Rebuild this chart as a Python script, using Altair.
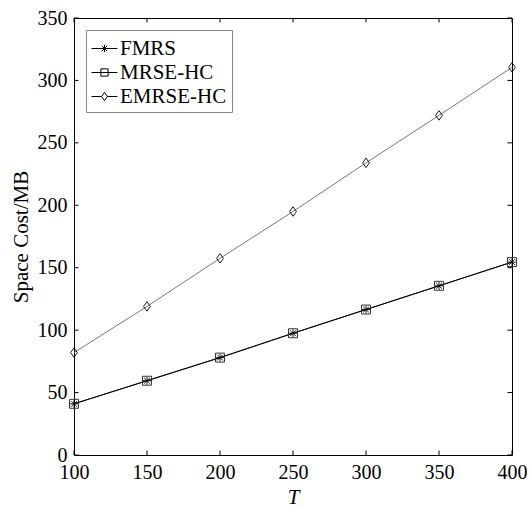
import altair as alt
import pandas as pd

T = [100, 150, 200, 250, 300, 350, 400]
fmrs = [41, 59.5, 78, 97.5, 116.5, 135.5, 154.5]
mrse_hc = [41, 59.5, 78, 97.5, 116.5, 135.5, 154.5]
emrse_hc = [82, 119, 157.5, 195, 234, 272, 310.5]
series_names = ["FMRS", "MRSE-HC", "EMRSE-HC"]
x_ticks = [100, 150, 200, 250, 300, 350, 400]
y_ticks = [0, 50, 100, 150, 200, 250, 300, 350]

rows = []
for name, vals in zip(series_names, [fmrs, mrse_hc, emrse_hc]):
    for t, v in zip(T, vals):
        rows.append({"T": t, "cost": v, "series": name})
df = pd.DataFrame(rows)

FONT = "Liberation Serif"
xs = alt.Scale(domain=[100, 400], nice=False, zero=False)
ys = alt.Scale(domain=[0, 350], nice=False)

X = alt.X("T:Q", scale=xs, axis=alt.Axis(values=x_ticks, title="T", titleFontStyle="italic",
                                         labelFlush=False, labelPadding=7, titlePadding=4))
Y = alt.Y("cost:Q", scale=ys, axis=alt.Axis(values=y_ticks, title="Space Cost/MB",
                                            labelPadding=7, titlePadding=6))

base = alt.Chart(df)

lines = base.mark_line(strokeWidth=0.9).encode(
    x=X, y=Y,
    detail="series:N",
    color=alt.condition(alt.datum.series == "EMRSE-HC", alt.value("#6a6a6a"), alt.value("#000000")),
)

ast_path = "M-1,0L1,0M0,-1L0,1M-0.72,-0.72L0.72,0.72M-0.72,0.72L0.72,-0.72"
dia_path = "M0,-1L0.72,0L0,1L-0.72,0Z"

m_fmrs = base.transform_filter(alt.datum.series == "FMRS").mark_point(
    shape=ast_path, size=64, filled=False, color="black", strokeWidth=0.9, opacity=1).encode(x="T:Q", y="cost:Q")
m_mrse = base.transform_filter(alt.datum.series == "MRSE-HC").mark_point(
    shape="square", size=80, filled=False, color="#333333", strokeWidth=1, opacity=1).encode(x="T:Q", y="cost:Q")
m_emrse = base.transform_filter(alt.datum.series == "EMRSE-HC").mark_point(
    shape=dia_path, size=90, filled=False, color="black", strokeWidth=0.9, opacity=1).encode(x="T:Q", y="cost:Q")

leg_paths = [
    "M-1,0L1,0M-0.28,0L0.28,0M0,-0.28L0,0.28M-0.2,-0.2L0.2,0.2M-0.2,0.2L0.2,-0.2",
    "M-1,0L1,0M-0.28,-0.28L0.28,-0.28L0.28,0.28L-0.28,0.28Z",
    "M-1,0L-0.22,0M0.22,0L1,0M0,-0.32L0.22,0L0,0.32L-0.22,0Z",
]
legend_layer = base.mark_point(filled=False, color="black", size=0).encode(
    x="T:Q", y="cost:Q",
    shape=alt.Shape("series:N", scale=alt.Scale(domain=series_names, range=leg_paths),
                    legend=alt.Legend(title=None, orient="top-left", offset=12, symbolSize=676,
                                      symbolStrokeColor="black", symbolFillColor="transparent",
                                      symbolStrokeWidth=1, symbolOpacity=1, labelFont=FONT, labelFontSize=21,
                                      labelColor="black", labelOffset=2, rowPadding=0,
                                      padding=5, strokeColor="#888888", fillColor="white",
                                      cornerRadius=0)),
)

tick_x_df = pd.DataFrame({"t": x_ticks})
tick_y_df = pd.DataFrame({"v": y_ticks})
tb = alt.Chart(tick_x_df).mark_rule(color="black", strokeWidth=1).encode(
    x=alt.X("t:Q", scale=xs), y=alt.datum(0), y2=alt.datum(3.6))
tt = alt.Chart(tick_x_df).mark_rule(color="black", strokeWidth=1).encode(
    x=alt.X("t:Q", scale=xs), y=alt.datum(350), y2=alt.datum(346.4))
tl = alt.Chart(tick_y_df).mark_rule(color="black", strokeWidth=1).encode(
    y=alt.Y("v:Q", scale=ys), x=alt.datum(100), x2=alt.datum(103.1))
tr = alt.Chart(tick_y_df).mark_rule(color="black", strokeWidth=1).encode(
    y=alt.Y("v:Q", scale=ys), x=alt.datum(400), x2=alt.datum(396.9))

chart = alt.layer(lines, m_fmrs, m_mrse, m_emrse, legend_layer, tb, tt, tl, tr).properties(
    width=438, height=437,
    autosize=alt.AutoSizeParams(type="none"),
    padding={"left": 74, "top": 18, "right": 17, "bottom": 53},
    background="white",
).configure_view(stroke="black", strokeWidth=1).configure_axis(
    grid=False, domain=False, ticks=False,
    labelFont=FONT, labelFontSize=20, labelColor="black",
    titleFont=FONT, titleFontSize=21, titleColor="black", titleFontWeight="normal",
)

chart.save("out.html", embed_options={"renderer": "svg", "actions": False})
